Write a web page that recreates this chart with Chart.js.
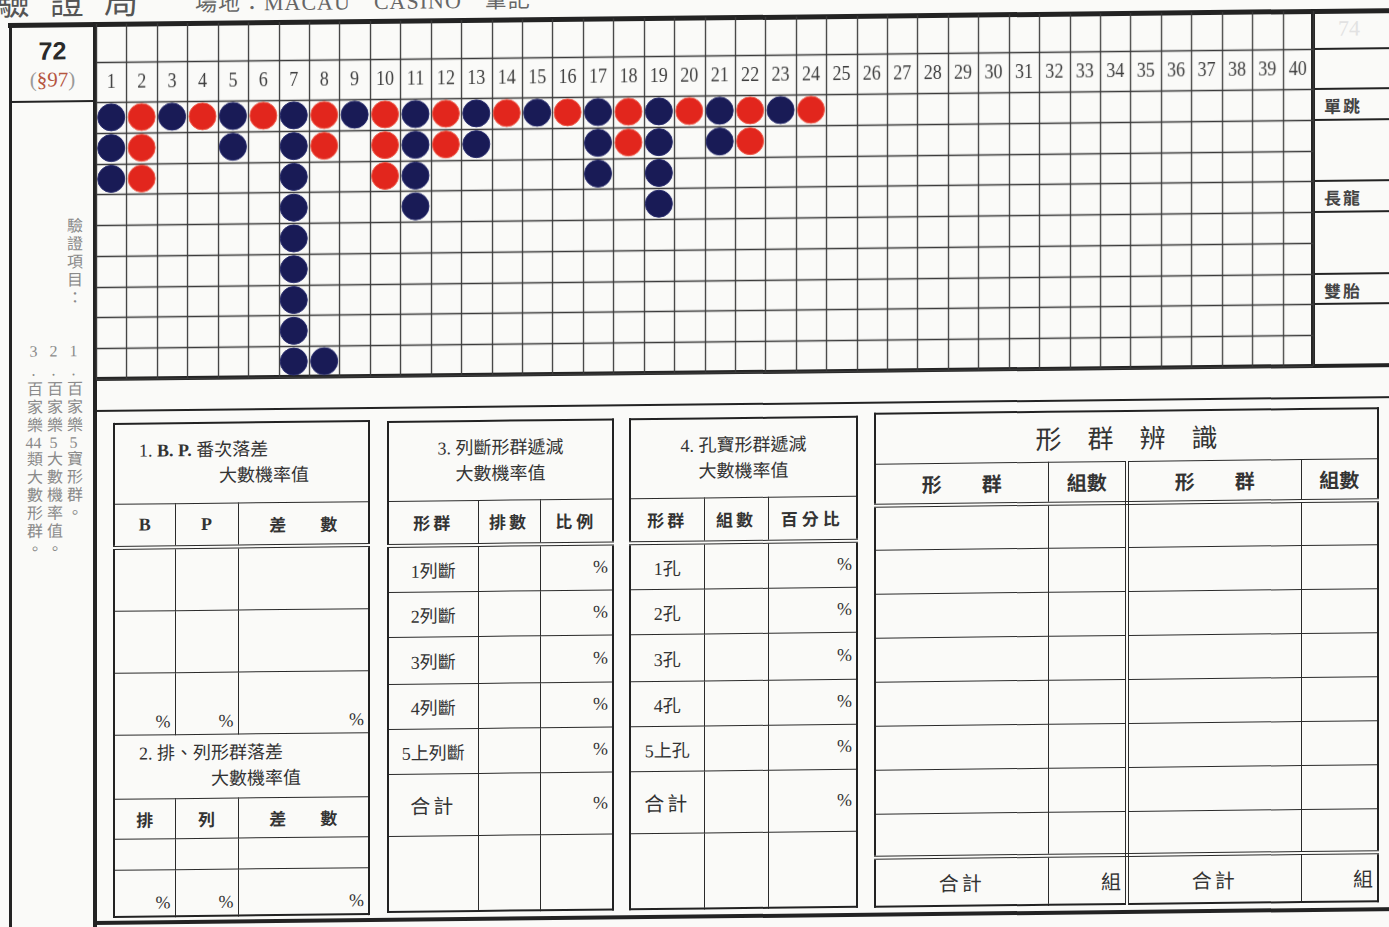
<!DOCTYPE html>
<html lang="zh-Hant">
<head>
<meta charset="utf-8">
<title>驗證局 72</title>
<script src="https://cdn.jsdelivr.net/npm/chart.js"></script>
<style>
  body { margin:0; width:1389px; height:927px; overflow:hidden; background:#fafaf8;
         font-family:"Liberation Serif","Noto Sans CJK TC",serif; color:#333; }
  #page { position:absolute; left:0; top:0; width:1389px; height:927px;
          transform:matrix(1,-0.0108,0,1,0,0); transform-origin:10px 25px; }
  .ln { position:absolute; background:#232323; }
  .abs { position:absolute; white-space:nowrap; }
  .vert { position:absolute; writing-mode:vertical-rl; text-orientation:upright;
          font-size:16px; letter-spacing:2px; color:#8a8a8a; line-height:20px; }
  .vert .c { text-combine-upright:all; }
  table.t { position:absolute; border-collapse:collapse; table-layout:fixed; border:2px solid #222; }
  table.t td { border:1.6px solid #2b2b2b; padding:0; text-align:center; vertical-align:middle;
               font-size:18px; color:#333; overflow:hidden; white-space:nowrap; }
  table.t td.pc { text-align:right; padding-right:4px; }
  table.t td.pb { text-align:right; vertical-align:bottom; padding:0 4px 2px 0; }
  table.t tr.dbl td { border-bottom:4px double #2b2b2b; }
  table.t td.hd { font-weight:700; font-size:17px; }
  .ttl { font-size:21px; line-height:26px; }
  #road { position:absolute; left:94px; top:25px; width:1221px; height:357px; }
</style>
</head>
<body>
<div id="page">
  <!-- cut-off page heading -->
  <div class="abs" style="left:-4px;top:-24px;font-size:34px;color:#555;letter-spacing:20px">驗證局</div>
  <div class="abs" style="left:195px;top:-13px;font-size:22px;color:#666;letter-spacing:1px">場地：MACAU　CASINO　筆記</div>

  <!-- frame lines -->
  <div class="ln" style="left:8px;top:23px;width:1400px;height:5px"></div>
  <div class="ln" style="left:9px;top:23px;width:3px;height:912px"></div>
  <div class="ln" style="left:93px;top:23px;width:4px;height:912px"></div>
  <div class="ln" style="left:1311px;top:23px;width:4px;height:359px"></div>
  <div class="ln" style="left:93px;top:378px;width:1310px;height:4px"></div>
  <div class="ln" style="left:93px;top:411px;width:1310px;height:2px"></div>
  <div class="ln" style="left:93px;top:922px;width:1310px;height:4px"></div>
  <div class="ln" style="left:10px;top:101px;width:85px;height:2px"></div>
  <div class="ln" style="left:1313px;top:62px;width:90px;height:1.5px"></div>
  <div class="ln" style="left:1313px;top:102px;width:90px;height:2px"></div>
  <div class="ln" style="left:1313px;top:133px;width:90px;height:2px"></div>
  <div class="ln" style="left:1313px;top:194px;width:90px;height:2px"></div>
  <div class="ln" style="left:1313px;top:225px;width:90px;height:2px"></div>
  <div class="ln" style="left:1313px;top:287px;width:90px;height:2px"></div>
  <div class="ln" style="left:1313px;top:317px;width:90px;height:2px"></div>

  <!-- left panel -->
  <div class="abs" style="left:10px;width:85px;top:36px;text-align:center;font:bold 25px 'Liberation Sans',sans-serif;color:#2a2a2a;line-height:30px">72</div>
  <div class="abs" style="left:10px;width:85px;top:67px;text-align:center;font-size:21px;line-height:26px;color:#999">(<span style="color:#b5553f">§97</span>)</div>
  <div class="vert" style="left:63px;top:218px">驗證項目：</div>
  <div class="vert" style="left:63px;top:343px">1.百家樂<span class="c">5</span>寶形群。</div>
  <div class="vert" style="left:43px;top:343px">2.百家樂<span class="c">5</span>大數機率值。</div>
  <div class="vert" style="left:23px;top:343px">3.百家樂<span class="c">44</span>類大數形群。</div>

  <!-- right panel -->
  <div class="abs" style="left:1338px;top:30px;font-size:22px;color:#e2e2e2">74</div>
  <div class="abs" style="left:1324px;top:107px;font-size:17px;font-weight:700;color:#444;letter-spacing:2px">單跳</div>
  <div class="abs" style="left:1324px;top:199px;font-size:17px;font-weight:700;color:#444;letter-spacing:2px">長龍</div>
  <div class="abs" style="left:1324px;top:292px;font-size:17px;font-weight:700;color:#444;letter-spacing:2px">雙胎</div>

  <!-- road grid -->
  <div id="road"><canvas id="roadChart"></canvas></div>

  <!-- table 1 -->
  <table class="t" style="left:113px;top:424px;width:257px">
    <colgroup><col style="width:61px"><col style="width:63px"><col></colgroup>
    <tr style="height:80px"><td colspan="3" class="ttl" style="text-align:left">
      <div style="padding-left:24px">1. <b>B. P.</b>&nbsp;番次落差</div>
      <div style="padding-left:104px">大數機率值</div></td></tr>
    <tr class="dbl" style="height:44px"><td style="font-weight:700">B</td><td style="font-weight:700">P</td><td class="hd">差　　數</td></tr>
    <tr style="height:63px"><td></td><td></td><td></td></tr>
    <tr style="height:62px"><td></td><td></td><td></td></tr>
    <tr style="height:62px"><td class="pb">%</td><td class="pb">%</td><td class="pb">%</td></tr>
    <tr style="height:64px"><td colspan="3" class="ttl" style="text-align:left">
      <div style="padding-left:24px">2. 排、列形群落差</div>
      <div style="padding-left:96px">大數機率值</div></td></tr>
    <tr style="height:40px"><td class="hd">排</td><td class="hd">列</td><td class="hd">差　　數</td></tr>
    <tr style="height:31px"><td></td><td></td><td></td></tr>
    <tr style="height:47px"><td class="pb">%</td><td class="pb">%</td><td class="pb">%</td></tr>
  </table>

  <!-- table 3 -->
  <table class="t" style="left:387px;top:425px;width:227px">
    <colgroup><col style="width:90px"><col style="width:62px"><col></colgroup>
    <tr style="height:79px"><td colspan="3" class="ttl"><div>3. 列斷形群遞減</div><div>大數機率值</div></td></tr>
    <tr class="dbl" style="height:45px"><td class="hd" style="letter-spacing:3px">形群</td><td class="hd" style="letter-spacing:3px">排數</td><td class="hd" style="letter-spacing:4px">比例</td></tr>
    <tr style="height:46px"><td>1列斷</td><td></td><td class="pc">%</td></tr>
    <tr style="height:45px"><td>2列斷</td><td></td><td class="pc">%</td></tr>
    <tr style="height:47px"><td>3列斷</td><td></td><td class="pc">%</td></tr>
    <tr style="height:45px"><td>4列斷</td><td></td><td class="pc">%</td></tr>
    <tr style="height:45px"><td>5上列斷</td><td></td><td class="pc">%</td></tr>
    <tr style="height:62px"><td style="font-size:20px;letter-spacing:3px">合計</td><td></td><td class="pc">%</td></tr>
    <tr style="height:76px"><td></td><td></td><td></td></tr>
  </table>

  <!-- table 4 -->
  <table class="t" style="left:629px;top:425px;width:229px">
    <colgroup><col style="width:74px"><col style="width:64px"><col></colgroup>
    <tr style="height:79px"><td colspan="3" class="ttl"><div>4. 孔寶形群遞減</div><div>大數機率值</div></td></tr>
    <tr class="dbl" style="height:45px"><td class="hd" style="letter-spacing:3px">形群</td><td class="hd" style="letter-spacing:3px">組數</td><td class="hd" style="letter-spacing:4px">百分比</td></tr>
    <tr style="height:46px"><td>1孔</td><td></td><td class="pc">%</td></tr>
    <tr style="height:45px"><td>2孔</td><td></td><td class="pc">%</td></tr>
    <tr style="height:47px"><td>3孔</td><td></td><td class="pc">%</td></tr>
    <tr style="height:45px"><td>4孔</td><td></td><td class="pc">%</td></tr>
    <tr style="height:45px"><td>5上孔</td><td></td><td class="pc">%</td></tr>
    <tr style="height:62px"><td style="font-size:20px;letter-spacing:3px">合計</td><td></td><td class="pc">%</td></tr>
    <tr style="height:76px"><td></td><td></td><td></td></tr>
  </table>

  <!-- shape recognition table -->
  <table class="t" style="left:874px;top:422px;width:505px">
    <colgroup><col style="width:173px"><col style="width:79px"><col style="width:174px"><col></colgroup>
    <tr style="height:50px"><td colspan="4" style="font-size:26px">形　群　辨　識</td></tr>
    <tr class="dbl" style="height:42px"><td class="hd" style="font-size:20px">形　　群</td><td class="hd" style="font-size:20px;border-right:4px double #2b2b2b">組數</td><td class="hd" style="font-size:20px">形　　群</td><td class="hd" style="font-size:20px">組數</td></tr>
    <tr style="height:44px"><td></td><td style="border-right:4px double #2b2b2b"></td><td></td><td></td></tr>
    <tr style="height:44px"><td></td><td style="border-right:4px double #2b2b2b"></td><td></td><td></td></tr>
    <tr style="height:44px"><td></td><td style="border-right:4px double #2b2b2b"></td><td></td><td></td></tr>
    <tr style="height:44px"><td></td><td style="border-right:4px double #2b2b2b"></td><td></td><td></td></tr>
    <tr style="height:44px"><td></td><td style="border-right:4px double #2b2b2b"></td><td></td><td></td></tr>
    <tr style="height:44px"><td></td><td style="border-right:4px double #2b2b2b"></td><td></td><td></td></tr>
    <tr style="height:44px"><td></td><td style="border-right:4px double #2b2b2b"></td><td></td><td></td></tr>
    <tr class="dbl" style="height:44px"><td></td><td style="border-right:4px double #2b2b2b"></td><td></td><td></td></tr>
    <tr style="height:49px"><td style="font-size:20px;letter-spacing:3px">合計</td><td class="pc" style="font-size:20px;border-right:4px double #2b2b2b">組</td><td style="font-size:20px;letter-spacing:3px">合計</td><td class="pc" style="font-size:20px">組</td></tr>
  </table>
</div>

<script>
// column numbers across the header row
const colLabels = ['1','2','3','4','5','6','7','8','9','10','11','12','13','14','15','16','17','18','19','20',
                   '21','22','23','24','25','26','27','28','29','30','31','32','33','34','35','36','37','38','39','40'];
const rowCount = 9;

// [column, row] of each bead
const blueDots = [[1,1],[1,2],[1,3],[3,1],[5,1],[5,2],
  [7,1],[7,2],[7,3],[7,4],[7,5],[7,6],[7,7],[7,8],[7,9],[8,9],
  [9,1],[11,1],[11,2],[11,3],[11,4],[13,1],[13,2],[15,1],
  [17,1],[17,2],[17,3],[19,1],[19,2],[19,3],[19,4],[21,1],[21,2],[23,1]];
const redDots = [[2,1],[2,2],[2,3],[4,1],[6,1],[8,1],[8,2],
  [10,1],[10,2],[10,3],[12,1],[12,2],[14,1],[16,1],[18,1],[18,2],
  [20,1],[22,1],[22,2],[24,1]];

function toPoints(list) {
  return list.map(d => ({ x: d[0] - 0.5, y: d[1] - 0.5 }));
}

const gridColor = '#3a3a3a';

// cell grid + header rows, drawn from the scales before the beads
const gridPlugin = {
  id: 'roadGrid',
  beforeDatasetsDraw(chart) {
    const { ctx, chartArea, scales: { x, y } } = chart;
    ctx.save();
    ctx.strokeStyle = gridColor;
    ctx.lineWidth = 1.3;
    for (let i = 0; i <= colLabels.length; i++) {
      const px = Math.round(x.getPixelForValue(i)) + 0.5;
      ctx.beginPath();
      ctx.moveTo(px, 0);
      ctx.lineTo(px, chartArea.bottom);
      ctx.stroke();
    }
    for (let j = 0; j <= rowCount; j++) {
      const py = Math.round(y.getPixelForValue(j)) + 0.5;
      ctx.beginPath();
      ctx.moveTo(chartArea.left, py);
      ctx.lineTo(chartArea.right, py);
      ctx.stroke();
    }
    ctx.beginPath();
    ctx.moveTo(chartArea.left, 38.5);
    ctx.lineTo(chartArea.right, 38.5);
    ctx.stroke();

    ctx.fillStyle = '#3c3c3c';
    ctx.textAlign = 'center';
    ctx.textBaseline = 'middle';
    ctx.font = '22px "Liberation Serif"';
    colLabels.forEach((t, i) => {
      ctx.save();
      ctx.translate(x.getPixelForValue(i + 0.5), 58);
      ctx.scale(0.82, 1);
      ctx.fillText(t, 0, 0);
      ctx.restore();
    });
    ctx.restore();
  }
};

new Chart(document.getElementById('roadChart'), {
  type: 'scatter',
  data: {
    datasets: [
      { label: '藍', data: toPoints(blueDots), pointRadius: 13.5, pointHoverRadius: 13.5,
        backgroundColor: '#191b56', borderColor: '#23276a', borderWidth: 1 },
      { label: '紅', data: toPoints(redDots), pointRadius: 13.5, pointHoverRadius: 13.5,
        backgroundColor: '#e2261d', borderColor: '#ee5b4a', borderWidth: 1 }
    ]
  },
  options: {
    responsive: true,
    maintainAspectRatio: false,
    animation: false,
    events: [],
    layout: { autoPadding: false, padding: { top: 78, left: 2, right: 2, bottom: 2 } },
    plugins: { legend: { display: false }, tooltip: { enabled: false } },
    scales: {
      x: { type: 'linear', display: false, min: 0, max: colLabels.length },
      y: { type: 'linear', display: false, min: 0, max: rowCount, reverse: true }
    }
  },
  plugins: [gridPlugin]
});
</script>
</body>
</html>
